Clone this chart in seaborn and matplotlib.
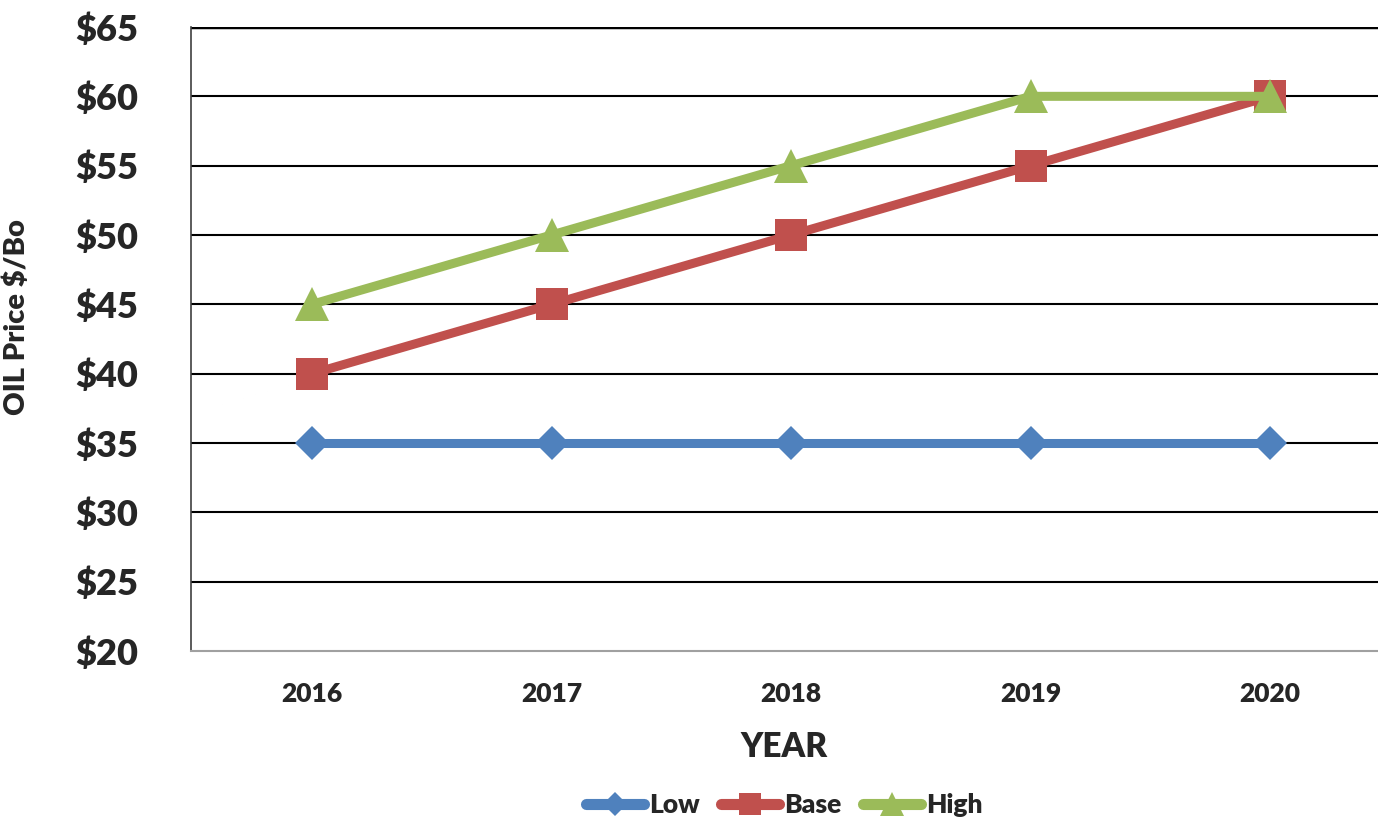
import matplotlib
matplotlib.use("Agg")
import matplotlib.pyplot as plt
import seaborn as sns
import pandas as pd

years = ["2016", "2017", "2018", "2019", "2020"]
low = [35, 35, 35, 35, 35]
base = [40, 45, 50, 55, 60]
high = [45, 50, 55, 60, 60]
series_names = ["Low", "Base", "High"]
y_ticks = [20, 25, 30, 35, 40, 45, 50, 55, 60, 65]

sns.set_theme(style="white")
plt.rcParams['font.family'] = ['Lato', 'DejaVu Sans']
FW = 'heavy'

W, H = 1378, 823
fig = plt.figure(figsize=(W / 100, H / 100), dpi=100)
ax = fig.add_axes([191 / W, 172 / H, (W - 191) / W, 624 / H])

colors = ["#4F81BD", "#C0504D", "#9BBB59"]
markers = ["D", "s", "^"]
msizes = [17, 23, 24]
idx = list(range(len(years)))
for name, vals, c, m, ms in zip(series_names, [low, base, high], colors, markers, msizes):
    df = pd.DataFrame({"x": idx, "y": vals})
    sns.lineplot(data=df, x="x", y="y", ax=ax, color=c, marker=m, markersize=ms,
                 linewidth=6.5, markeredgewidth=0, label=name, zorder=3)

ax.set_ylim(20, 65)
ax.set_xlim(-0.505, 4.45)
ax.set_yticks(y_ticks)
ax.set_yticklabels([f"${v}" for v in y_ticks], fontsize=26, fontweight=FW)
ax.set_xticks(idx)
ax.set_xticklabels(years, fontsize=19, fontweight=FW)
ax.tick_params(axis='y', pad=38, length=0)
ax.tick_params(axis='x', pad=22, length=0)
for v in y_ticks[1:]:
    ax.axhline(v, color="black", linewidth=1.5 if v < 65 else 2.5, zorder=1)
ax.grid(False)
for s in ["top", "right"]:
    ax.spines[s].set_visible(False)
ax.spines["left"].set_color("#404040")
ax.spines["left"].set_linewidth(1.2)
ax.spines["bottom"].set_color("#A0A0A0")
ax.spines["bottom"].set_linewidth(1.5)

ax.set_xlabel("YEAR", fontsize=24, fontweight=FW, labelpad=18)
ax.set_ylabel("OIL Price $/Bo", fontsize=21, fontweight=FW)
ax.yaxis.set_label_coords(-(191 - 30) / (W - 191), 0.535)

leg = ax.legend(loc="center", bbox_to_anchor=((784 - 191) / (W - 191), -0.247), ncol=3,
                frameon=False, handlelength=2.2, handletextpad=0.2,
                columnspacing=0.8, markerscale=0.7,
                prop={'size': 19, 'weight': FW})
for ln in leg.get_lines():
    ln.set_linewidth(8)
    ln.set_solid_capstyle('round')

fig.savefig("out.png", dpi=100)
